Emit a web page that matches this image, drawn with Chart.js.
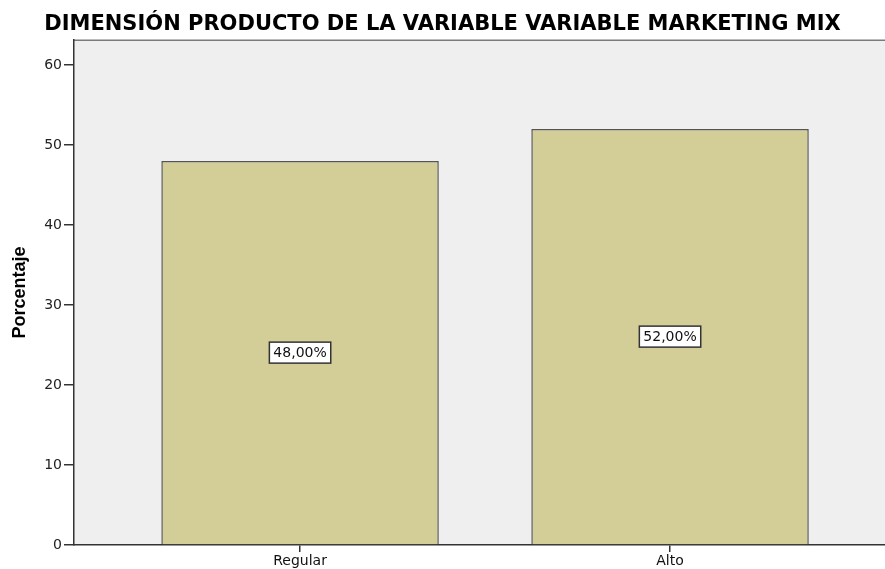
<!DOCTYPE html>
<html>
<head>
<meta charset="utf-8">
<script src="https://cdn.jsdelivr.net/npm/chart.js@4"></script>
<style>
  html, body { margin: 0; padding: 0; background: #fff; }
  #wrap { width: 885px; height: 569px; }
</style>
</head>
<body>
<div id="wrap"><canvas id="grafico" width="885" height="569"></canvas></div>
<script>
// datos
const categorias = ['Regular', 'Alto'];
const porcentajes = [48, 52];
const etiquetas = ['48,00%', '52,00%'];
const ticksY = [0, 10, 20, 30, 40, 50, 60];

// fondo gris del area de grafico + borde superior
const fondoPlot = {
  id: 'fondoPlot',
  beforeDraw(chart) {
    const { ctx, chartArea } = chart;
    ctx.save();
    ctx.fillStyle = '#efefef';
    ctx.fillRect(chartArea.left, chartArea.top, chartArea.right - chartArea.left, chartArea.bottom - chartArea.top);
    ctx.strokeStyle = '#7a7a7a';
    ctx.lineWidth = 1.5;
    ctx.beginPath();
    ctx.moveTo(chartArea.left, chartArea.top);
    ctx.lineTo(chartArea.right, chartArea.top);
    ctx.stroke();
    ctx.restore();
  }
};

// etiquetas en cajas blancas en el centro de cada barra
const etiquetasBarras = {
  id: 'etiquetasBarras',
  afterDatasetsDraw(chart) {
    const { ctx } = chart;
    const meta = chart.getDatasetMeta(0);
    ctx.save();
    ctx.font = '14px "DejaVu Sans", sans-serif';
    ctx.textAlign = 'center';
    ctx.textBaseline = 'middle';
    meta.data.forEach(function (bar, i) {
      const p = bar.getProps(['x', 'y', 'base'], true);
      const cy = (p.y + p.base) / 2;
      const txt = etiquetas[i];
      const w = ctx.measureText(txt).width + 8;
      const h = 21;
      ctx.fillStyle = '#ffffff';
      ctx.fillRect(p.x - w / 2, cy - h / 2, w, h);
      ctx.strokeStyle = '#333';
      ctx.lineWidth = 1.5;
      ctx.strokeRect(p.x - w / 2, cy - h / 2, w, h);
      ctx.fillStyle = '#111';
      ctx.fillText(txt, p.x, cy + 1);
    });
    ctx.restore();
  }
};

const ctx = document.getElementById('grafico').getContext('2d');
new Chart(ctx, {
  type: 'bar',
  data: {
    datasets: [
      {
        data: porcentajes.map((v, i) => ({ x: i + 1, y: v })),
        backgroundColor: '#d3ce98',
        borderColor: '#555',
        borderWidth: 1.5,
        categoryPercentage: 1,
        barPercentage: 0.75,
      },
    ],
  },
  options: {
    responsive: false,
    animation: false,
    layout: { padding: { left: 0, right: 0, top: 0, bottom: 0 } },
    plugins: {
      legend: { display: false },
      tooltip: { enabled: false },
      title: {
        display: true,
        text: 'DIMENSIÓN PRODUCTO DE LA VARIABLE VARIABLE MARKETING MIX',
        color: '#000',
        font: { family: '"DejaVu Sans", sans-serif', size: 21, weight: 'bold', lineHeight: 1.2 },
        padding: { top: 12, bottom: 3 },
      },
    },
    scales: {
      x: {
        type: 'linear',
        offset: false,
        min: 0.389,
        max: 2.581,
        afterBuildTicks(scale) {
          scale.ticks = categorias.map((c, i) => ({ value: i + 1 }));
        },
        afterFit(scale) { scale.height = 24; },
        ticks: {
          callback: (v) => categorias[v - 1] || '',
          color: '#111',
          font: { family: '"DejaVu Sans", sans-serif', size: 14 },
          padding: 1,
          maxRotation: 0,
          autoSkip: false,
        },
        grid: { offset: false, drawOnChartArea: false, drawTicks: true, tickLength: 7, color: '#333', lineWidth: 1.5 },
        border: { color: '#333', width: 1.5 },
      },
      y: {
        min: 0,
        max: 63.1,
        afterBuildTicks(scale) {
          scale.ticks = ticksY.map((v) => ({ value: v }));
        },
        afterFit(scale) { scale.width = 74; },
        ticks: {
          color: '#222',
          font: { family: '"DejaVu Sans", sans-serif', size: 14 },
          padding: 2,
        },
        grid: { drawOnChartArea: false, drawTicks: true, tickLength: 10, color: '#333', lineWidth: 1.5 },
        border: { color: '#333', width: 1.5 },
        title: {
          display: true,
          text: 'Porcentaje',
          color: '#000',
          font: { family: '"Liberation Sans", Arial, sans-serif', size: 18, weight: 'bold', lineHeight: 1.2 },
          padding: { top: 9, bottom: 0 },
        },
      },
    },
  },
  plugins: [fondoPlot, etiquetasBarras],
});
</script>
</body>
</html>
